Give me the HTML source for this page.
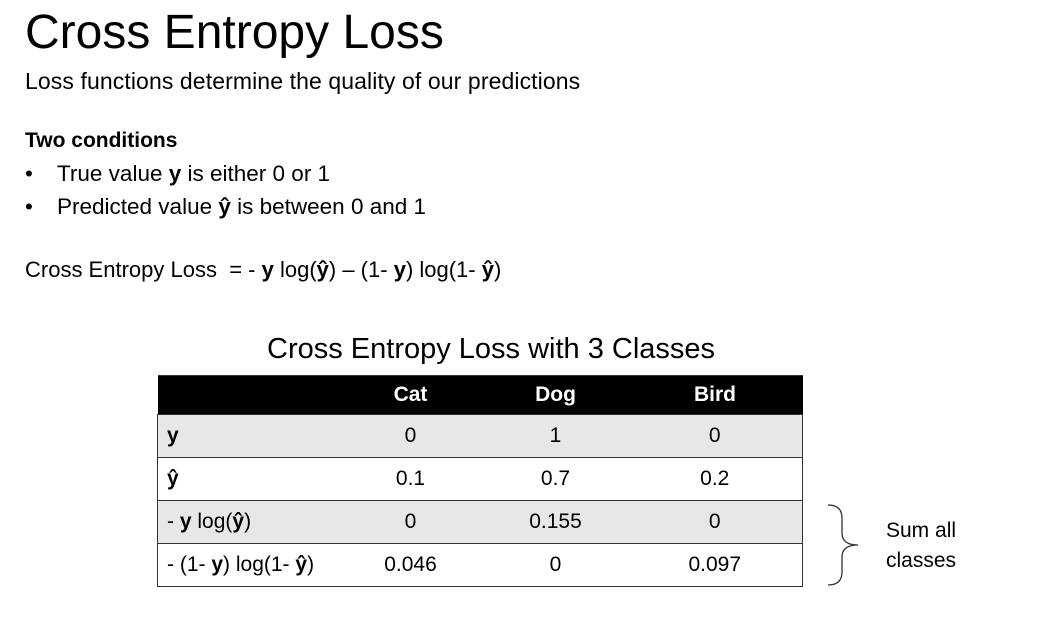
<!DOCTYPE html>
<html><head><meta charset="utf-8"><style>
body{margin:0;width:1055px;height:618px;background:#fff;position:relative;overflow:hidden;font-family:"Liberation Sans",sans-serif;color:#000}
.t{position:absolute;line-height:1;white-space:nowrap}
table{position:absolute;left:157px;top:375px;width:646px;border-collapse:collapse;font-size:21px;table-layout:fixed}
td,th{padding:0;height:42px;text-align:center;border-top:1.5px solid #333}
th{background:#000;color:#fff;height:38px;font-weight:bold}
td:first-child{text-align:left;padding-left:9px}
tr.g td{background:#e7e7e7}
tbody{border-left:1.5px solid #333;border-right:1.5px solid #333;border-bottom:1.5px solid #333}
</style></head><body>
<div class="t" style="left:25px;top:9px;font-size:48px">Cross Entropy Loss</div>
<div class="t" style="left:25px;top:70px;font-size:23px;letter-spacing:0.1px">Loss functions determine the quality of our predictions</div>
<div class="t" style="left:25px;top:130px;font-size:21px;font-weight:bold">Two conditions</div>
<div class="t" style="left:25px;top:163px;font-size:22.5px">•<span style="position:absolute;left:32px">True value <b>y</b> is either 0 or 1</span></div>
<div class="t" style="left:25px;top:196px;font-size:22.5px">•<span style="position:absolute;left:32px">Predicted value <b>ŷ</b> is between 0 and 1</span></div>
<div class="t" style="left:25px;top:259px;font-size:22px">Cross Entropy Loss &nbsp;= - <b>y</b> log(<b>ŷ</b>) – (1- <b>y</b>) log(1- <b>ŷ</b>)</div>
<div class="t" style="left:267px;top:335px;font-size:29px">Cross Entropy Loss with 3 Classes</div>
<table>
<colgroup><col style="width:180px"><col style="width:146px"><col style="width:144px"><col></colgroup>
<thead><tr><th></th><th>Cat</th><th>Dog</th><th>Bird</th></tr></thead>
<tbody id="tb"></tbody></table>
<svg style="position:absolute;left:820px;top:500px" width="50" height="90">
<path d="M8 5 Q22 5 22 18 L22 33 Q22 45 38 45 Q22 45 22 57 L22 72 Q22 85 8 85" fill="none" stroke="#333" stroke-width="1.3"/></svg>
<div class="t" style="left:886px;top:516px;font-size:21px;line-height:30px">Sum all<br>classes</div>
<script>
const rowLabels=['<b>y</b>','<b>ŷ</b>','- <b>y</b> log(<b>ŷ</b>)','- (1- <b>y</b>) log(1- <b>ŷ</b>)'];
const catVals=['0','0.1','0','0.046'];
const dogVals=['1','0.7','0.155','0'];
const birdVals=['0','0.2','0','0.097'];
const tb=document.getElementById('tb');
rowLabels.forEach((l,i)=>{
 const tr=document.createElement('tr');
 
 
 if(i%2===0)tr.className='g';
 tr.innerHTML='<td>'+l+'</td><td>'+catVals[i]+'</td><td>'+dogVals[i]+'</td><td>'+birdVals[i]+'</td>';
 tb.appendChild(tr);
});
</script>
</body></html>
